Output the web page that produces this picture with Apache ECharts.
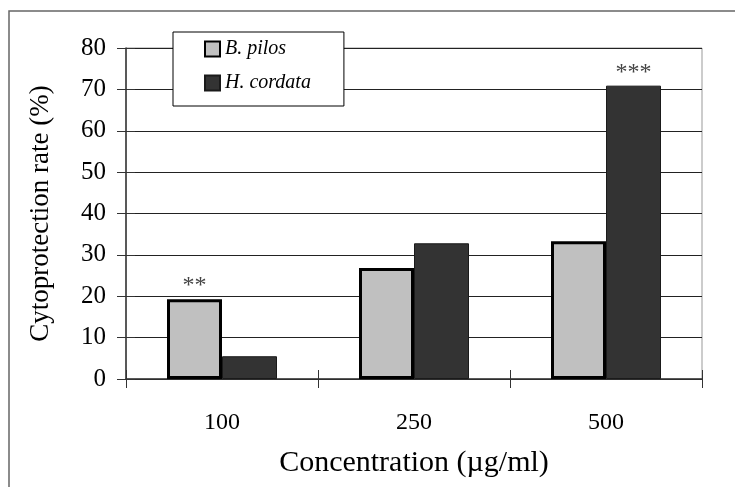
<!DOCTYPE html>
<html>
<head>
<meta charset="utf-8">
<script src="https://cdn.jsdelivr.net/npm/echarts@6/dist/echarts.min.js"></script>
<style>
  html, body { margin: 0; padding: 0; background: #fff; }
  #chart { width: 735px; height: 487px; }
</style>
</head>
<body>
<div id="chart"></div>
<script>
const categories = ['100', '250', '500'];
const bPilos = [19.3, 26.8, 33.3];
const hCordata = [5.5, 32.8, 70.9];
// significance marks above the bars
const sigPilos = ['**', '', ''];
const sigCordata = ['', '', '***'];
const yTicks = [0, 10, 20, 30, 40, 50, 60, 70, 80];

const serif = 'Liberation Serif, Times New Roman, serif';

const chart = echarts.init(document.getElementById('chart'));

function sigLabel(marks) {
    return {
        show: true,
        position: 'top',
        distance: 1,
        color: '#444',
        fontFamily: serif,
        fontSize: 24,
        formatter: p => marks[p.dataIndex]
    };
}

const option = {
    animation: false,
    backgroundColor: '#fff',
    graphic: [{
        type: 'rect',
        shape: { x: 9, y: 11, width: 800, height: 600 },
        style: { fill: 'none', stroke: '#666', lineWidth: 1.5 },
        z: 0
    }],
    grid: {
        left: 126, right: 33, top: 48, bottom: 108,
        show: true, borderColor: '#999', borderWidth: 1
    },
    legend: {
        orient: 'vertical',
        left: 173, top: 32,
        padding: [7, 33, 13, 31],
        itemGap: 14,
        itemWidth: 15, itemHeight: 15,
        backgroundColor: '#fff',
        borderColor: '#000', borderWidth: 1,
        textStyle: { fontFamily: serif, fontStyle: 'italic', fontSize: 20, color: '#000' },
        data: [
            { name: 'B. pilos', icon: 'rect' },
            { name: 'H. cordata', icon: 'rect' }
        ]
    },
    xAxis: [{
        type: 'category',
        data: categories,
        name: 'Concentration (\u00b5g/ml)',
        nameLocation: 'middle',
        nameGap: 69,
        nameTextStyle: { fontFamily: serif, fontSize: 30, color: '#000' },
        axisLine: { lineStyle: { color: '#333', width: 1.5 } },
        axisTick: { show: true, length: 9, lineStyle: { color: '#333' } },
        axisLabel: { margin: 32, fontFamily: serif, fontSize: 24, color: '#000' }
    }, {
        type: 'category',
        data: categories,
        position: 'bottom',
        axisLine: { show: false },
        axisTick: { show: true, inside: true, length: 9, lineStyle: { color: '#333' } },
        axisLabel: { show: false }
    }],
    yAxis: [{
        type: 'value',
        min: 0, max: 80, interval: 10,
        name: 'Cytoprotection rate (%)',
        nameLocation: 'middle',
        nameRotate: 90,
        nameGap: 72,
        nameTextStyle: { fontFamily: serif, fontSize: 27, color: '#000' },
        axisLine: { show: true, lineStyle: { color: '#333', width: 1.5 } },
        axisTick: { show: true, length: 9, lineStyle: { color: '#333' } },
        axisLabel: {
            margin: 20, fontFamily: serif, fontSize: 25, color: '#000',
            formatter: v => yTicks.includes(v) ? String(v) : ''
        },
        splitLine: { show: true, lineStyle: { color: '#222', width: 1 } }
    }, {
        type: 'value',
        min: 0, max: 80, interval: 10,
        position: 'left',
        axisLine: { show: false },
        axisTick: { show: true, inside: true, length: 9, lineStyle: { color: '#333' } },
        axisLabel: { show: false },
        splitLine: { show: false }
    }],
    series: [{
        name: 'B. pilos',
        type: 'bar',
        data: bPilos,
        barWidth: 55,
        barGap: '0%',
        itemStyle: { color: '#c0c0c0', borderColor: '#000', borderWidth: 3 },
        label: sigLabel(sigPilos),
        z: 3
    }, {
        name: 'H. cordata',
        type: 'bar',
        data: hCordata,
        barWidth: 55,
        itemStyle: { color: '#333333', borderColor: '#1a1a1a', borderWidth: 1 },
        label: sigLabel(sigCordata),
        z: 2
    }]
};

chart.setOption(option);
</script>
</body>
</html>
